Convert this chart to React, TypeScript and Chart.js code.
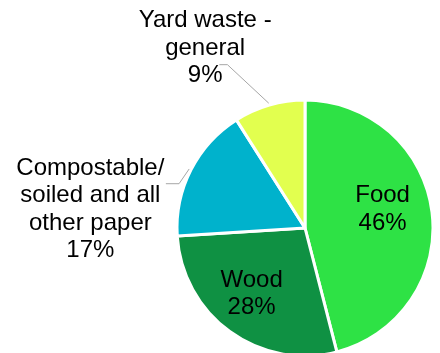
import React, { useEffect, useRef } from "react";
import { Chart, registerables } from "chart.js";

Chart.register(...registerables);

const categories = ["Food", "Wood", "Compostable/ soiled and all other paper", "Yard waste - general"];
const labelLines = [
  ["Food", "46%"],
  ["Wood", "28%"],
  ["Compostable/", "soiled and all", "other paper", "17%"],
  ["Yard waste -", "general", "9%"],
];
const values = [46, 28, 17, 9];
const colors = ["#2ee245", "#0f9143", "#00b2cc", "#e2ff4f"];

// label placement relative to pie center, in units of radius
const labelOffsets = [
  [0.606, -0.145],
  [-0.417, 0.516],
  [-1.677, -0.145],
  [-0.78, -1.405],
];
// leader elbows (relative to center, in radius units); null = no leader
const leaderElbows: (number[][] | null)[] = [
  null,
  null,
  [[-0.984, -0.346], [-1.087, -0.346]],
  [[-0.606, -1.276], [-0.669, -1.276]],
];

const labelPlugin = {
  id: "pieLabels",
  afterDatasetsDraw(chart: any) {
    const ctx = chart.ctx;
    const meta = chart.getDatasetMeta(0);
    meta.data.forEach((arc: any, i: number) => {
      const { x, y, outerRadius, startAngle, endAngle } = arc.getProps(
        ["x", "y", "outerRadius", "startAngle", "endAngle"],
        true
      );
      const r = outerRadius;
      const elbow = leaderElbows[i];
      if (elbow) {
        const mid = (startAngle + endAngle) / 2;
        const sx = x + Math.cos(mid) * (r + 2);
        const sy = y + Math.sin(mid) * (r + 2);
        ctx.save();
        ctx.strokeStyle = "#a6a6a6";
        ctx.lineWidth = 1;
        ctx.beginPath();
        ctx.moveTo(sx, sy);
        elbow.forEach((p) => ctx.lineTo(x + p[0] * r, y + p[1] * r));
        ctx.stroke();
        ctx.restore();
      }
      const lines = labelLines[i];
      const cx = x + labelOffsets[i][0] * r;
      const cy = y + labelOffsets[i][1] * r;
      const lh = 27.4;
      ctx.save();
      ctx.fillStyle = "#000000";
      ctx.font = "24px 'Liberation Sans', Arial, sans-serif";
      ctx.textAlign = "center";
      ctx.textBaseline = "middle";
      lines.forEach((t, k) => {
        ctx.fillText(t, cx, cy + (k - (lines.length - 1) / 2) * lh);
      });
      ctx.restore();
    });
  },
};

export default function App() {
  const ref = useRef<HTMLCanvasElement>(null);
  useEffect(() => {
    if (!ref.current) return;
    const chart = new Chart(ref.current, {
      type: "pie",
      data: {
        labels: categories,
        datasets: [
          {
            data: values,
            backgroundColor: colors,
            borderColor: "#ffffff",
            borderWidth: 3,
          },
        ],
      },
      options: {
        responsive: false,
        animation: false,
        radius: 128,
        layout: { padding: { left: 170, right: 0, top: 103, bottom: 0 } },
        plugins: {
          legend: { display: false },
          tooltip: { enabled: false },
        },
      } as any,
      plugins: [labelPlugin],
    });
    return () => chart.destroy();
  }, []);
  return (
    <div style={{ position: "fixed", left: 0, top: 0, width: 440, height: 353, background: "#fff" }}>
      <canvas ref={ref} width={440} height={353} style={{ display: "block" }} />
    </div>
  );
}
